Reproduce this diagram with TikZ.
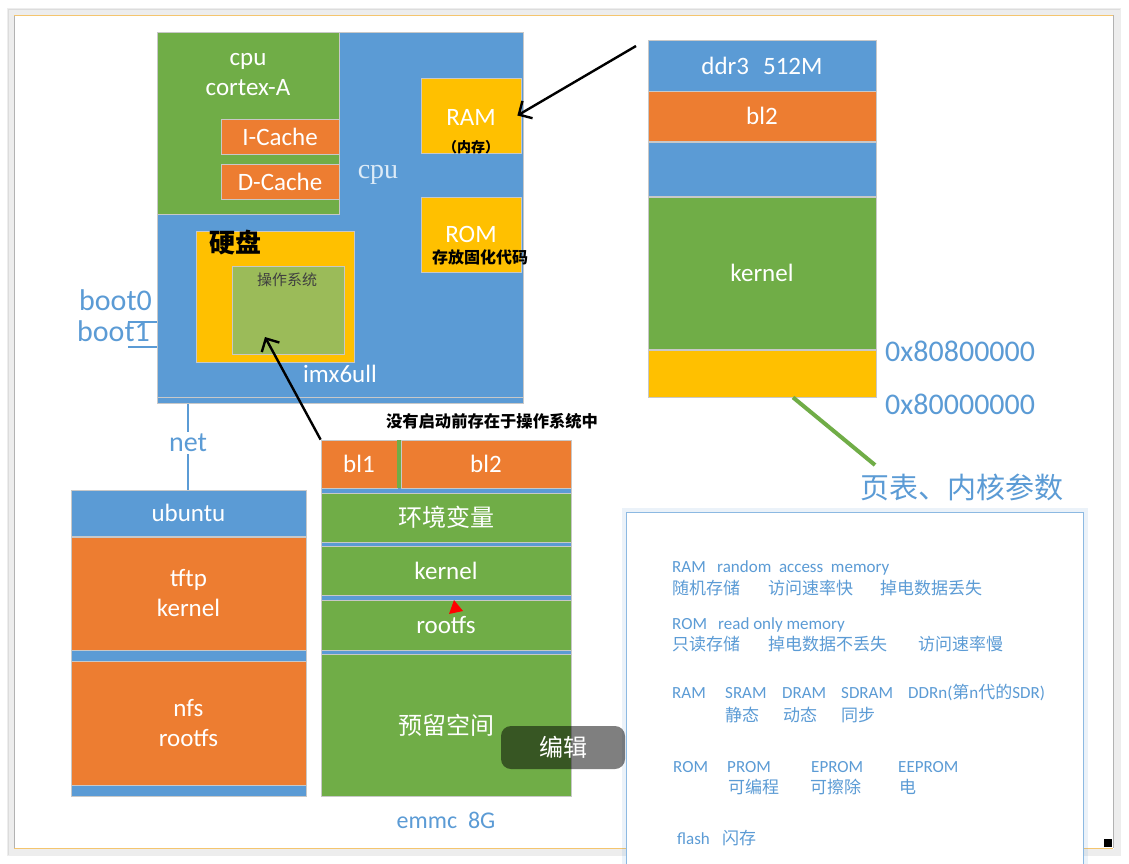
\documentclass[tikz,border=0pt]{standalone}
\usepackage{fontspec}
\setmainfont{Carlito}
\newfontfamily\cjk{Noto Sans CJK SC}
\newfontfamily\serifcpu{Liberation Serif}
\usetikzlibrary{arrows.meta,positioning,calc}
\definecolor{Bc}{HTML}{5B9BD5}
\definecolor{Oc}{HTML}{ED7D31}
\definecolor{Gc}{HTML}{70AD47}
\definecolor{Yc}{HTML}{FFC000}
\definecolor{Olc}{HTML}{9BBB59}
\definecolor{cpulc}{HTML}{DDEBF7}
\definecolor{edge}{HTML}{C8C8C8}
\definecolor{pageline}{HTML}{F4C56E}
\newcommand{\fs}[2]{\fontsize{#1}{#2}\selectfont}
\tikzset{
  blk/.style={draw=edge, line width=0.8pt, inner sep=0pt, text=white, font=\fs{25}{30}, align=center},
  wtxt/.style={text=white, inner sep=0pt, font=\fs{25}{30}, align=center},
  lab/.style={text=Bc, inner sep=2pt, font=\fs{28}{32}},
  note/.style={anchor=base west, text=Bc, inner sep=0pt, font=\fs{17}{20}},
  cnote/.style={note, font=\cjk\fs{17}{20}},
  arr/.style={-{Straight Barb[length=10pt,width=20pt]}, line width=2.4pt},
  wire/.style={Bc, line width=1.2pt},
}

\begin{document}
\begin{tikzpicture}[x=1pt,y=-1pt]
  \useasboundingbox (0,0) rectangle (1129,863);
  % page with shadow
  \foreach \g in {1,...,5}
    \draw[black, opacity=0.07, line width=1.5pt] (14-\g*1.2,15-\g*1.2) rectangle (1113+\g*1.5,848+\g*1.5);
  \fill[white] (14,15) rectangle (1113,848);
  \draw[gray!60] (14,15) -- (14,848) (1113,15) -- (1113,848);
  \draw[pageline, line width=1pt] (14,15) -- (1113,15) (14,848) -- (1113,848);
  \fill (1104,839) rectangle (1112,847);

  % notes box
  \foreach \g in {1,...,4}
    \draw[Bc, opacity=0.12, line width=1pt] (626-\g,512-\g) rectangle (1083+\g,900);
  \node[draw=Bc!70, line width=1.2pt, fill=white, inner sep=0pt, minimum width=457pt, minimum height=380pt, anchor=north west] (notes) at (626,512) {};

  % soc
  \node[blk, fill=Bc, minimum width=366pt, minimum height=365pt] (imx) at (340,214.5) {};
  \node[blk, fill=Bc, minimum width=366pt, minimum height=6pt, below=0pt of imx] (imxbar) {};
  \node[blk, fill=Gc, minimum width=182pt, minimum height=182pt] (core) at (248,123) {};
  \node[wtxt, font=\fs{25}{30}] (corelbl) at (248,75) {cpu\\cortex-A};
  \node[blk, fill=Oc, minimum width=118pt, minimum height=35pt] (icache) at (280,136.5) {I-Cache};
  \node[blk, fill=Oc, minimum width=118pt, minimum height=35pt] (dcache) at (280,181.5) {D-Cache};
  \node[text=cpulc, font=\serifcpu\fs{28}{32}] (cpulbl) at (378,175) {cpu};
  \node[blk, fill=Yc, minimum width=100pt, minimum height=75pt] (ram) at (471,115.5) {};
  \node[wtxt] (ramlbl) at (471,117) {RAM};
  \node[inner sep=0pt, font=\cjk\bfseries\fs{14}{16}] (ramcn) at (471,147) {（内存）};
  \node[blk, fill=Yc, minimum width=100pt, minimum height=75pt] (rom) at (471,234.5) {};
  \node[wtxt] (romlbl) at (471,234) {ROM};
  \node[inner sep=0pt, font=\cjk\bfseries\fs{16}{18}] (romcn) at (480,257) {存放固化代码};
  \node[blk, fill=Yc, minimum width=158pt, minimum height=131pt] (disk) at (275,296.5) {};
  \node[inner sep=0pt, font=\cjk\bfseries\fs{26}{30}] (disklbl) at (235,243) {硬盘};
  \node[blk, fill=Olc, minimum width=112pt, minimum height=88pt] (os) at (288,310) {};
  \node[inner sep=0pt, text=black!75, font=\cjk\fs{15}{17}] (oslbl) at (287,280) {操作系统};
  \node[wtxt] (imxlbl) at (340,374) {imx6ull};

  % boot pins
  \node[lab, anchor=east, inner sep=0pt, font=\fs{30}{34}] (boot0) at (152,300) {boot0};
  \node[lab, anchor=east, inner sep=0pt, font=\fs{30}{34}] (boot1) at (150,331) {boot1};
  \coordinate (bt1) at (128,322);
  \coordinate (bt2) at (128,347);
  \draw[wire] (bt1) -- (bt1 -| imx.west);
  \draw[wire] (bt2) -- (bt2 -| imx.west);

  % host
  \node[blk, fill=Bc, minimum width=235pt, minimum height=306pt, anchor=north] (host) at (188.5,490) {};
  \node[blk, fill=Bc, minimum width=235pt, minimum height=46pt] (ubuntu) at (188.5,513) {ubuntu};
  \node[blk, fill=Oc, minimum width=235pt, minimum height=113pt] (tftp) at (188.5,593.5) {tftp\\kernel};
  \node[blk, fill=Oc, minimum width=235pt, minimum height=124pt] (nfs) at (188.5,723) {nfs\\rootfs};
  \node[lab] (net) at (188,443) {net};
  \draw[wire] (net.north) -- (net.north |- imxbar.south);
  \draw[wire] (net.south) -- (net.south |- ubuntu.north);

  % emmc
  \node[blk, fill=Bc, minimum width=250pt, minimum height=356pt, anchor=north] (emmc) at (446,440) {};
  \node[blk, fill=Oc, minimum width=76pt, minimum height=48pt] (bl1) at (359,464) {bl1};
  \node[blk, fill=Gc, draw=none, minimum width=4pt, minimum height=48pt] (blsep) at (399,464) {};
  \node[blk, fill=Oc, minimum width=170pt, minimum height=48pt] (bl2) at (486,464) {bl2};
  \node[blk, fill=Gc, minimum width=250pt, minimum height=49pt, font=\cjk\fs{24}{29}] (env) at (446,517.5) {环境变量};
  \node[blk, fill=Gc, minimum width=250pt, minimum height=49pt] (ekern) at (446,570.5) {kernel};
  \node[blk, fill=Gc, minimum width=250pt, minimum height=50pt] (erootfs) at (446,625) {rootfs};
  \node[blk, fill=Gc, minimum width=250pt, minimum height=142pt, font=\cjk\fs{24}{29}] (resv) at (446,725) {预留空间};
  \fill[red] (454,600) -- (463,611) -- (449,614) -- cycle;
  \node[lab, font=\fs{24}{28}] (emmclbl) at (446,820) {emmc\ \ 8G};
  \node[inner sep=0pt, font=\cjk\bfseries\fs{16.3}{18}] (bootnote) at (492,421) {没有启动前存在于操作系统中};

  % ddr
  \node[blk, fill=Bc, minimum width=228pt, minimum height=51pt] (ddr) at (762,65.5) {ddr3\hspace{14pt}512M};
  \node[blk, fill=Oc, minimum width=228pt, minimum height=50pt] (dbl2) at (762,116) {bl2};
  \node[blk, fill=Bc, minimum width=228pt, minimum height=54pt] (dgap) at (762,169) {};
  \node[blk, fill=Gc, minimum width=228pt, minimum height=152pt] (dkern) at (762,273) {kernel};
  \node[blk, fill=Yc, minimum width=228pt, minimum height=47pt] (dpar) at (762,373.5) {};
  \node[lab, anchor=west, inner sep=0pt, font=\fs{30}{34}] (a808) at (885,351) {0x80800000};
  \node[lab, anchor=west, inner sep=0pt, font=\fs{30}{34}] (a800) at (885,404) {0x80000000};
  \coordinate (pgt) at (875,465);
  \draw[Gc, line width=4pt] ($(dpar.south)+(31,0)$) -- (pgt);
  \node[lab, inner sep=0pt, font=\cjk\fs{29}{32}] (pglbl) at (962,487) {页表、内核参数};

  % arrows
  \coordinate (ramsrc) at (636,46);
  \coordinate (ostip) at (265,337);
  \draw[arr] (ramsrc) -- ([xshift=-4pt]ram.east);
  \draw[arr] (bl1.north west) -- (ostip);

  % overlay button
  \node[fill=black, fill opacity=0.5, text opacity=1, text=white, rounded corners=10pt, minimum width=124pt, minimum height=43pt, font=\cjk\fs{24}{28}] (edit) at (563,747.5) {编辑};

  % notes
  \node[note] (r1) at (672,572) {RAM};
  \node[note] (r1b) at (717,572) {random\ \ access\ \ memory};
  \node[cnote] (r2a) at (672,594) {随机存储};
  \node[cnote] (r2b) at (768,594) {访问速率快};
  \node[cnote] (r2c) at (880,594) {掉电数据丢失};
  \node[note] (o1) at (672,629) {ROM};
  \node[note] (o1b) at (718,629) {read only memory};
  \node[cnote] (o2a) at (672,650) {只读存储};
  \node[cnote] (o2b) at (768,650) {掉电数据不丢失};
  \node[cnote] (o2c) at (918,650) {访问速率慢};
  \node[note] (t1) at (672,698) {RAM};
  \node[note] (t1b) at (725,698) {SRAM};
  \node[note] (t1c) at (782,698) {DRAM};
  \node[note] (t1d) at (841,698) {SDRAM};
  \node[note] (t1e) at (908,698) {DDRn({\cjk 第}n{\cjk 代的}SDR)};
  \node[cnote] (t2b) at (725,721) {静态};
  \node[cnote] (t2c) at (783,721) {动态};
  \node[cnote] (t2d) at (841,721) {同步};
  \node[note] (p1) at (673,772) {ROM};
  \node[note] (p1b) at (727,772) {PROM};
  \node[note] (p1c) at (811,772) {EPROM};
  \node[note] (p1d) at (898,772) {EEPROM};
  \node[cnote] (p2b) at (728,793) {可编程};
  \node[cnote] (p2c) at (810,793) {可擦除};
  \node[cnote] (p2d) at (899,793) {电};
  \node[note] (f1) at (677,844) {flash};
  \node[cnote] (f1b) at (722,844) {闪存};
\end{tikzpicture}
\end{document}
